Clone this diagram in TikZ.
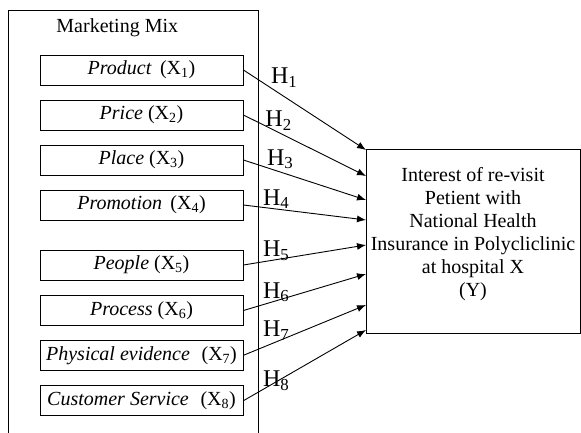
\documentclass[tikz,border=0pt]{standalone}
\usepackage{fontspec}
\setmainfont{Liberation Serif}
\usetikzlibrary{arrows.meta}
\begin{document}
\begin{tikzpicture}[x=1pt,y=-1pt,
  line width=0.9pt,
  mixbox/.style={draw, rectangle, minimum width=203pt, minimum height=30pt,
    inner sep=0pt, font=\fontsize{20}{23}\selectfont},
  hyp/.style={anchor=base west, inner sep=0pt, font=\fontsize{24}{28}\selectfont},
  link/.style={-{Latex[length=9pt,width=7pt]}}]
\useasboundingbox (0,0) rectangle (581,433);

% outer frame of the marketing mix group (open at the bottom)
\draw (8,440) -- (8,10) -- (258,10) -- (258,440);
\node[anchor=base west, inner sep=0pt, font=\fontsize{20}{23}\selectfont] (title) at (56,33) {Marketing Mix};

% independent variables
\node[mixbox] (x1) at (141.5,70)  {\textit{Product}\, (X\textsubscript{1})};
\node[mixbox] (x2) at (141.5,115) {\textit{Price} (X\textsubscript{2})};
\node[mixbox] (x3) at (141.5,160) {\textit{Place} (X\textsubscript{3})};
\node[mixbox] (x4) at (141.5,205) {\textit{Promotion}\, (X\textsubscript{4})};
\node[mixbox] (x5) at (141.5,265) {\textit{People} (X\textsubscript{5})};
\node[mixbox] (x6) at (141.5,310.5) {\textit{Process} (X\textsubscript{6})};
\node[mixbox] (x7) at (141.5,355.3) {\textit{Physical evidence}\,\, (X\textsubscript{7})};
\node[mixbox] (x8) at (141.5,400.7) {\textit{Customer Service}\,\, (X\textsubscript{8})};

% dependent variable
\node[draw, rectangle, minimum width=214pt, minimum height=183.7pt, inner sep=0pt] (Y) at (473,241.2) {};
\node[align=center, inner sep=0pt, font=\fontsize{20}{23}\selectfont] (ytext) at (473,234)
  {Interest of re-visit\\Petient with\\National Health\\Insurance in Polycliclinic\\at hospital X\\(Y)};

% hypothesis paths
\coordinate (e1) at (366,150);
\coordinate (e2) at (366,176);
\coordinate (e3) at (366,200);
\coordinate (e4) at (366,220);
\coordinate (e5) at (366,245);
\coordinate (e6) at (366,274);
\coordinate (e7) at (366,305);
\coordinate (e8) at (366,330);
\foreach \i in {1,...,8} { \draw[link] (x\i.east) -- (e\i); }

% hypothesis labels
\node[hyp] (h1) at (270.7,83.3) {H\textsubscript{1}};
\node[hyp] (h2) at (265,127) {H\textsubscript{2}};
\node[hyp] (h3) at (266.7,165) {H\textsubscript{3}};
\node[hyp] (h4) at (262.7,205) {H\textsubscript{4}};
\node[hyp] (h5) at (262.7,256.7) {H\textsubscript{5}};
\node[hyp] (h6) at (262.7,298) {H\textsubscript{6}};
\node[hyp] (h7) at (262.7,336.7) {H\textsubscript{7}};
\node[hyp] (h8) at (262.7,386.7) {H\textsubscript{8}};
\end{tikzpicture}
\end{document}
